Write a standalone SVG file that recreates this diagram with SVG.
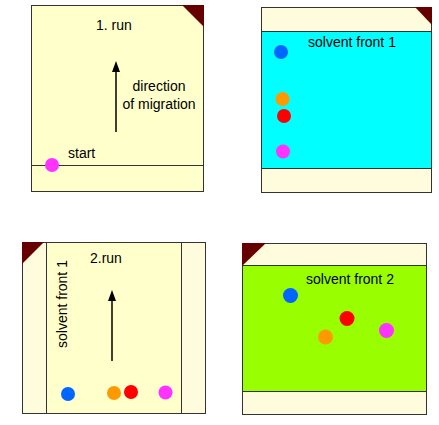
<svg xmlns="http://www.w3.org/2000/svg" width="439" height="425" viewBox="0 0 439 425">
<style>
.paper{fill:#FFFFCC;stroke:#333;stroke-width:1}
.band{fill:#FFFBDD;stroke:#333;stroke-width:1}
.edge{stroke:#333;stroke-width:1;fill:none}
.corner{fill:#660000}
.t{font-family:"Liberation Sans",Arial,sans-serif;font-size:14px;fill:#000}
.blue{fill:#0066FF}.orange{fill:#FF9900}.red{fill:#FF0000}.mag{fill:#FF33FF}
.shaft{stroke:#000;stroke-width:1.5}
.head{fill:#000}
</style>
<rect width="439" height="425" fill="#fff"/>
<g id="panel1">
<rect class="paper" x="31.5" y="5.5" width="172" height="186"/>
<polygon class="corner" points="182,5 204,5 204,27"/>
<line class="edge" x1="31" y1="165.5" x2="204" y2="165.5"/>
<text class="t" x="96" y="30">1. run</text>
<text class="t" x="159" y="91" text-anchor="middle">direction</text>
<text class="t" x="159" y="109" text-anchor="middle">of migration</text>
<text class="t" x="68" y="158">start</text>
<circle class="mag" cx="52" cy="165" r="7"/>
</g>
<g id="panel2">
<rect class="band" x="261.5" y="7.5" width="170" height="185"/>
<rect fill="#00FFFF" stroke="#333" x="261.5" y="31.5" width="170" height="137"/>
<polygon class="corner" points="415,7 432,7 432,25"/>
<text class="t" x="308" y="47">solvent front 1</text>
<circle class="blue" cx="281" cy="52" r="7"/>
<circle class="orange" cx="282.5" cy="99" r="7"/>
<circle class="red" cx="284" cy="116" r="7"/>
<circle class="mag" cx="283" cy="151.5" r="7"/>
</g>
<g id="panel3">
<rect class="band" x="22.5" y="242.5" width="183" height="171"/>
<rect class="paper" x="46.5" y="242.5" width="135" height="171"/>
<polygon class="corner" points="22,242 44,242 22,264"/>
<text class="t" x="90" y="263">2.run</text>
<text class="t" transform="translate(67,348) rotate(-90)">solvent front 1</text>
<circle class="blue" cx="68" cy="394" r="7"/>
<circle class="orange" cx="114" cy="393" r="7"/>
<circle class="red" cx="131" cy="392" r="7"/>
<circle class="mag" cx="165.5" cy="392.5" r="7"/>
</g>
<g id="panel4">
<rect class="band" x="242.5" y="243.5" width="184" height="171"/>
<rect fill="#99FF00" stroke="#333" x="242.5" y="265.5" width="184" height="126"/>
<polygon class="corner" points="242,243 266,243 242,266"/>
<text class="t" x="306" y="284">solvent front 2</text>
<circle class="blue" cx="290.5" cy="295.5" r="7.5"/>
<circle class="red" cx="347" cy="318.5" r="7.5"/>
<circle class="orange" cx="325.5" cy="337" r="7.5"/>
<circle class="mag" cx="386.5" cy="330.5" r="7.5"/>
</g>
<g id="connectors">
<line class="shaft" x1="116" y1="132" x2="116" y2="70"/>
<polygon class="head" points="116,61 120,72 112,72"/>
<line class="shaft" x1="112" y1="361" x2="112" y2="299"/>
<polygon class="head" points="112,290 116,301 108,301"/>
</g>
</svg>
